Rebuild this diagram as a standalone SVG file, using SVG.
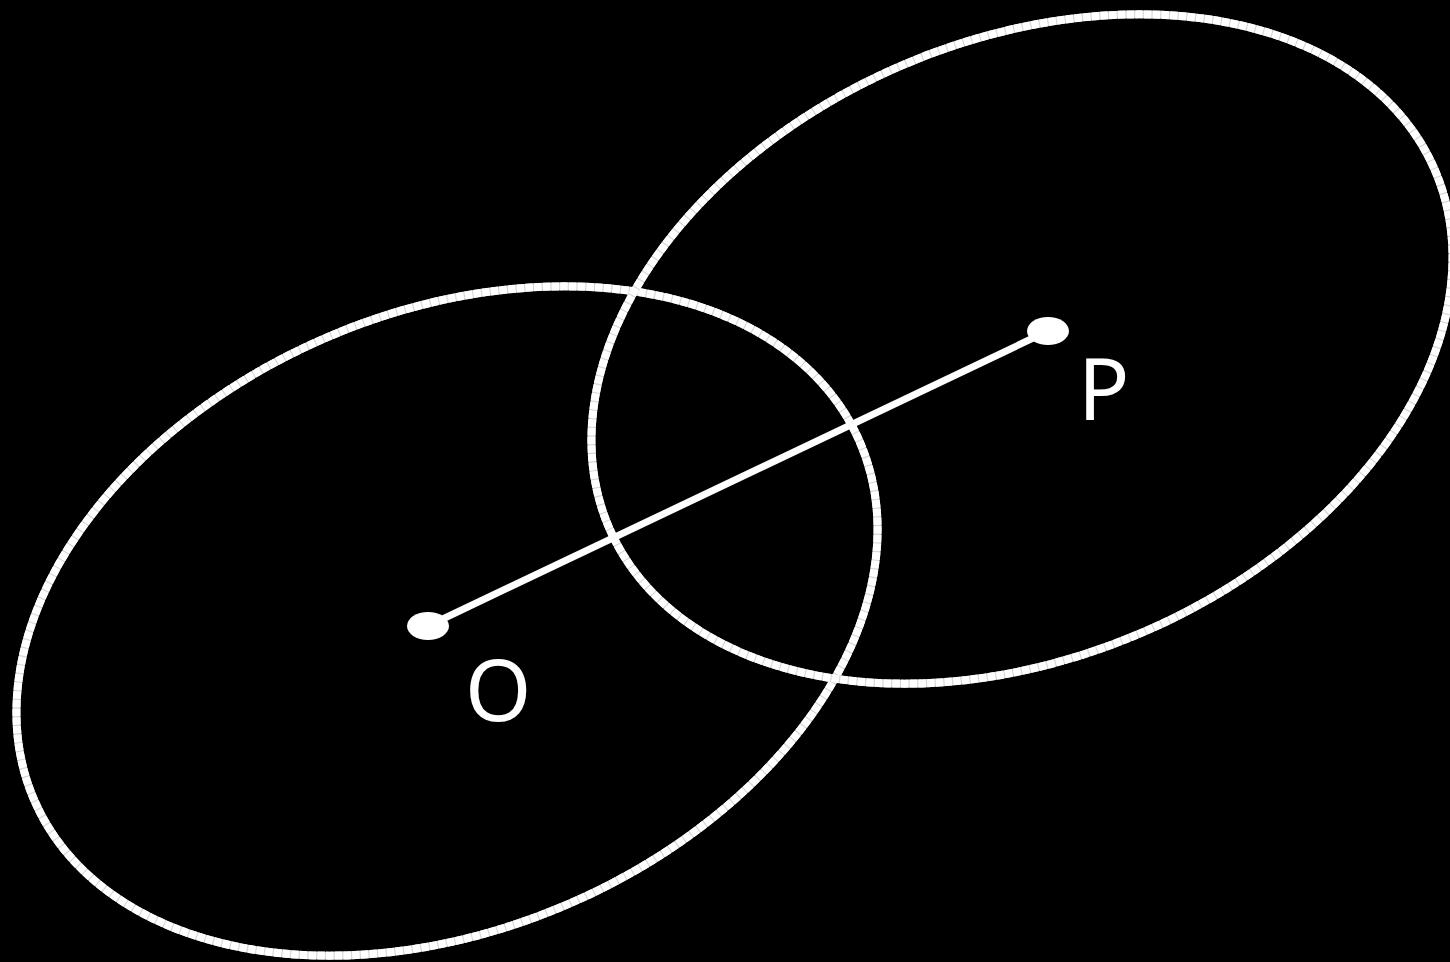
<svg xmlns="http://www.w3.org/2000/svg" width="1450" height="962" viewBox="0 0 1450 962">
  <style>
    .ring-base { fill: none; stroke: #d8d8d8; stroke-width: 8; }
    .ring { fill: none; stroke: #ffffff; stroke-width: 8; stroke-dasharray: 7.5 1.2; }
    .dot { fill: #ffffff; }
    .edge { stroke: #ffffff; stroke-width: 7; fill: none; }
    .label { fill: #ffffff; font-family: "Noto Sans", "Open Sans", "DejaVu Sans", sans-serif; font-size: 85px; }
  </style>
  <rect width="1450" height="962" fill="#000000"/>
  <g id="ellipse-O">
    <ellipse class="ring-base" cx="447" cy="621" rx="450" ry="308" transform="rotate(-23.5 447 621)"/>
    <ellipse class="ring" cx="447" cy="621" rx="450" ry="308" transform="rotate(-23.5 447 621)"/>
  </g>
  <g id="ellipse-P">
    <ellipse class="ring-base" cx="1022" cy="349" rx="450" ry="308" transform="rotate(-23.5 1022 349)"/>
    <ellipse class="ring" cx="1022" cy="349" rx="450" ry="308" transform="rotate(-23.5 1022 349)"/>
  </g>
  <g id="connectors">
    <line class="edge" x1="428" y1="626" x2="1048" y2="331"/>
  </g>
  <g id="node-O">
    <ellipse class="dot" cx="428" cy="626" rx="21" ry="14"/>
    <text class="label" x="465" y="721">O</text>
  </g>
  <g id="node-P">
    <ellipse class="dot" cx="1048" cy="331" rx="21" ry="14"/>
    <text class="label" x="1078" y="420">P</text>
  </g>
</svg>
